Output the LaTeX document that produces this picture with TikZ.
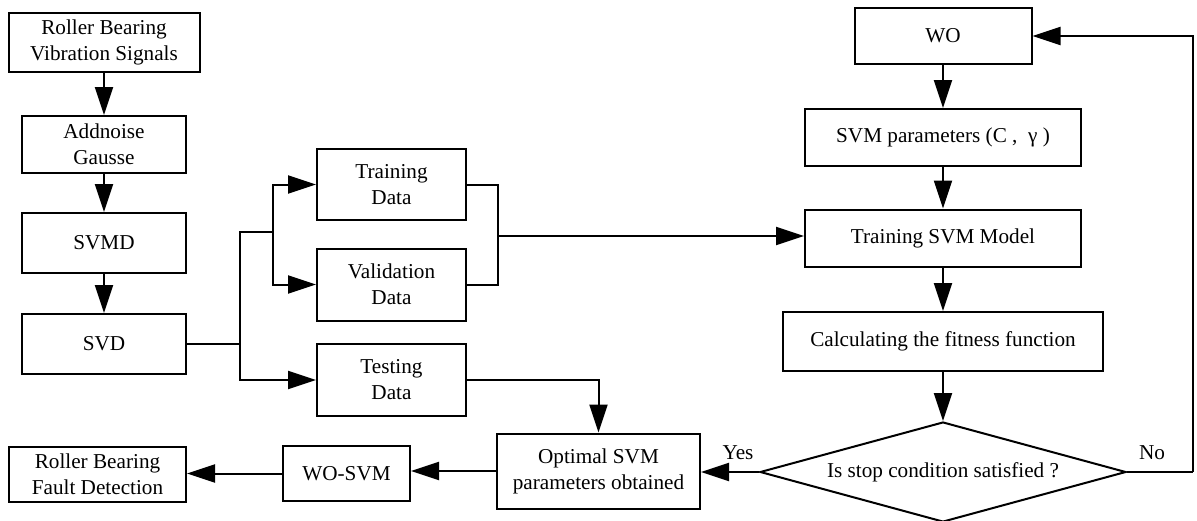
\documentclass[tikz,border=0pt]{standalone}
\usepackage{fontspec}
\setmainfont{Liberation Serif}
\usetikzlibrary{arrows.meta,shapes.geometric}
\begin{document}
\begin{tikzpicture}[x=0.5pt,y=-0.5pt,line width=1pt,
  every node/.style={font=\fontsize{10.6}{13}\selectfont},
  box/.style={draw,line width=1pt,inner sep=0pt,align=center},
  arr/.style={-{Triangle[length=14pt,width=9pt]}}]
\useasboundingbox (0,0) rectangle (1197,520);
% left column
\node[box,minimum width=95.5pt,minimum height=29.5pt] (rbvs) at (104,42.5) {Roller Bearing\\Vibration Signals};
\node[box,minimum width=82pt,minimum height=28.5pt] (add) at (104,144.5) {Addnoise\\Gausse};
\node[box,minimum width=82pt,minimum height=30pt] (svmd) at (104,243) {SVMD};
\node[box,minimum width=82pt,minimum height=30pt] (svd) at (104,344) {SVD};
\node[box,minimum width=88.5pt,minimum height=27.5pt] (fault) at (97.5,474.5) {Roller Bearing\\Fault Detection};
\node[box,minimum width=63.5pt,minimum height=27.5pt] (wosvm) at (346.5,473.5) {WO-SVM};
% data
\node[box,minimum width=74.5pt,minimum height=35.5pt] (train) at (391.5,184.5) {Training\\Data};
\node[box,minimum width=74.5pt,minimum height=36pt] (valid) at (391.5,284.5) {Validation\\Data};
\node[box,minimum width=74.5pt,minimum height=36pt] (test) at (391.5,380) {Testing\\Data};
\node[box,minimum width=101.5pt,minimum height=37.5pt] (opt) at (598.5,471) {Optimal SVM\\parameters obtained};
% right column
\node[box,minimum width=88.5pt,minimum height=28pt] (wo) at (943,36) {WO};
\node[box,minimum width=138pt,minimum height=28.5pt] (svmp) at (943,137.5) {SVM parameters (C ,\ \ γ )};
\node[box,minimum width=138pt,minimum height=28.5pt] (tsvm) at (943,238) {Training SVM Model};
\node[box,minimum width=160pt,minimum height=29.5pt] (calc) at (943,341.5) {Calculating the fitness function};
\node[draw,line width=1pt,shape=diamond,aspect=3.66,inner sep=0pt,minimum width=183pt,minimum height=50pt] (dec) at (943,472) {Is stop condition satisfied ?};
\node (yes) at (738,453) {Yes};
\node (no) at (1152,453) {No};
% coordinates
\coordinate (j1) at (240,344);
\coordinate (j2) at (240,232);
\coordinate (j3) at (273,232);
\coordinate (j4) at (498,236);
\coordinate (j5) at (1193,472);
% connectors
\draw[arr] (rbvs.south) -- (add.north);
\draw[arr] (add.south) -- (svmd.north);
\draw[arr] (svmd.south) -- (svd.north);
\draw (svd.east) -- (j1);
\draw (j1) -- (j2) -- (j3);
\draw[arr] (j1) |- (test.west);
\draw[arr] (j3) |- (train.west);
\draw[arr] (j3) |- (valid.west);
\draw (train.east) -| (j4) |- (valid.east);
\draw[arr] (j4) -- (j4 -| tsvm.west);
\draw[arr] (wo.south) -- (svmp.north);
\draw[arr] (svmp.south) -- (tsvm.north);
\draw[arr] (tsvm.south) -- (calc.north);
\draw[arr] (calc.south) -- (dec.north);
\draw (dec.east) -- (j5);
\draw[arr] (j5) |- (wo.east);
\draw[arr] (dec.west) -- (dec.west -| opt.east);
\draw[arr] (test.east) -| (opt.north);
\draw[arr] (opt.west) -- (opt.west -| wosvm.east);
\draw[arr] (wosvm.west) -- (wosvm.west -| fault.east);
\end{tikzpicture}
\end{document}
